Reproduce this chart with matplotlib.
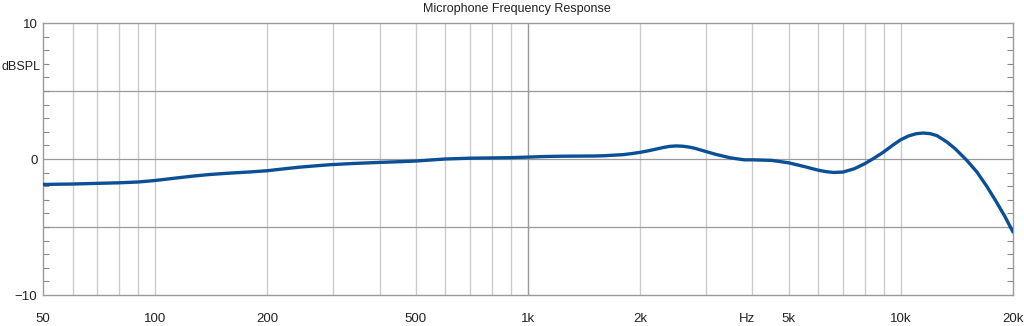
import matplotlib
matplotlib.use("Agg")
import matplotlib.pyplot as plt
from matplotlib.ticker import FixedLocator, NullFormatter
from matplotlib.transforms import ScaledTranslation

plt.rcParams['font.family'] = ['Liberation Sans', 'DejaVu Sans']

freq_hz = [50, 60, 70, 80, 90, 100, 112, 126, 140, 156, 180, 200, 222, 244,
           270, 294, 340, 400, 450, 500, 550, 600, 700, 800, 900, 1000, 1100,
           1200, 1300, 1500, 1600, 1800, 1900, 2000, 2100, 2200, 2300, 2400,
           2500, 2600, 2700, 2800, 3000, 3200, 3500, 3800, 4000, 4500, 5000,
           5500, 6000, 6300, 6600, 7000, 7500, 8000, 8500, 9000, 9500, 10000,
           10500, 11000, 11500, 12000, 12500, 13300, 14000, 15000, 16000,
           17000, 18000, 19000, 20000]
level_db = [-1.87, -1.84, -1.79, -1.75, -1.69, -1.58, -1.42, -1.26, -1.14,
            -1.05, -0.95, -0.86, -0.72, -0.60, -0.50, -0.42, -0.33, -0.25,
            -0.20, -0.15, -0.07, 0.0, 0.06, 0.08, 0.1, 0.14, 0.18, 0.2, 0.21,
            0.22, 0.24, 0.32, 0.4, 0.49, 0.6, 0.72, 0.84, 0.93, 0.96, 0.94,
            0.88, 0.79, 0.55, 0.33, 0.08, -0.06, -0.06, -0.1, -0.28, -0.55,
            -0.82, -0.93, -0.99, -0.96, -0.72, -0.35, 0.08, 0.52, 1.0, 1.42,
            1.7, 1.86, 1.91, 1.86, 1.72, 1.25, 0.75, -0.07, -0.95, -2.0, -3.1,
            -4.2, -5.37]

x_tick_vals = [50, 100, 200, 500, 1000, 2000, 4000, 5000, 10000, 20000]
x_tick_labels = ['50', '100', '200', '500', '1k', '2k', 'Hz', '5k', '10k',
                 '20k']
x_grid_vals = [60, 70, 80, 90, 100, 200, 300, 400, 500, 600, 700, 800, 900,
               2000, 3000, 4000, 5000, 6000, 7000, 8000, 9000, 10000]
y_tick_vals = [-10, 0, 10]
y_grid_vals = [-5, 0, 5]

W, H = 1024, 326
fig = plt.figure(figsize=(W / 100, H / 100), dpi=100)
ax = fig.add_axes([43 / W, 1 - 295 / H, (1013 - 43) / W, (295 - 23) / H])
ax.set_xscale('log')
ax.set_xlim(50, 20000)
ax.set_ylim(-10, 10)

for v in x_grid_vals:
    ax.axvline(v, color='#cccccc', lw=1.0, zorder=1)
ax.axvline(1000, color='#999999', lw=1.0, zorder=1)
for v in y_grid_vals:
    ax.axhline(v, color='#9a9a9a', lw=0.9, zorder=1)

ax.plot(freq_hz, level_db, color='#0b4f96', lw=2.4, zorder=3,
        solid_capstyle='round', solid_joinstyle='round')

ax.xaxis.set_major_locator(FixedLocator(x_tick_vals))
ax.set_xticklabels(x_tick_labels)
ax.xaxis.set_minor_locator(FixedLocator([]))
ax.xaxis.set_minor_formatter(NullFormatter())
ax.tick_params(axis='x', which='major', length=0, pad=13, labelsize=9.5,
               colors='#222222')
for lab in ax.get_xticklabels():
    if lab.get_text() == 'Hz':
        lab.set_transform(lab.get_transform() +
                          ScaledTranslation(-5 / 100, 0, fig.dpi_scale_trans))

ax.yaxis.set_major_locator(FixedLocator(y_tick_vals))
ax.yaxis.set_minor_locator(FixedLocator(list(range(-10, 11))))
ax.tick_params(axis='y', which='both', direction='in', length=4, width=0.8,
               color='#888888', left=True, right=True, labelsize=9.5,
               labelcolor='#222222', pad=4)
ax.tick_params(axis='y', which='major', length=0)

for s in ax.spines.values():
    s.set_color('#9a9a9a')
    s.set_linewidth(1.0)

fig.text(1 / W, 1 - 67 / H, 'dBSPL', ha='left', va='center', fontsize=9,
         color='#222222')
fig.text(517 / W, 1 - 9 / H, 'Microphone Frequency Response', ha='center',
         va='center', fontsize=9, color='#222222')

fig.savefig('out.png', dpi=100, facecolor='white')
